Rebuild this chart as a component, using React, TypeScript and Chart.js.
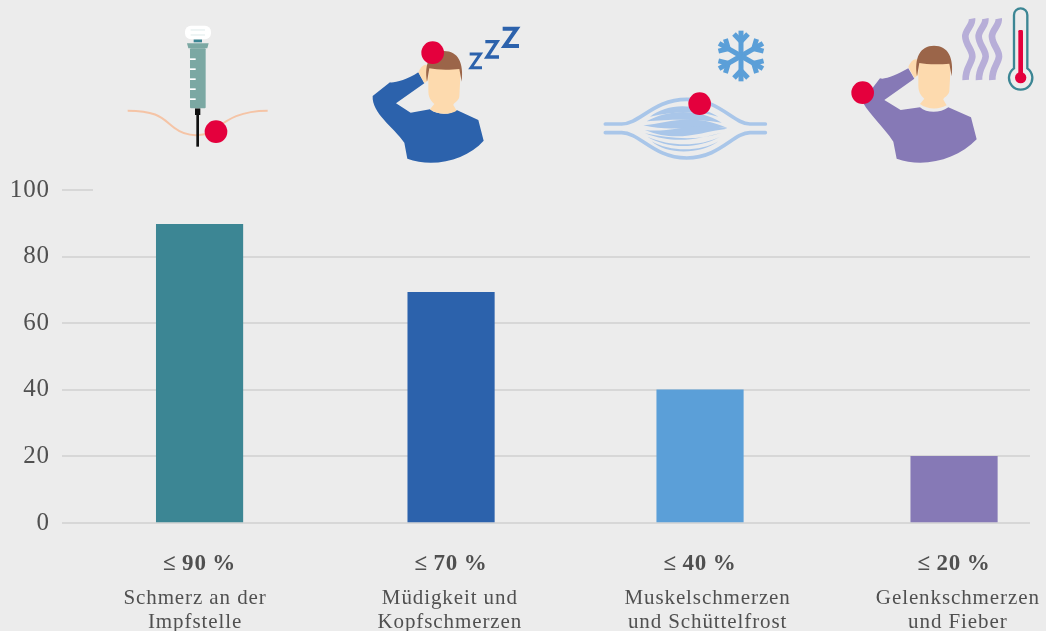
import React, { useEffect, useRef } from "react";
import { Chart, registerables } from "chart.js";

Chart.register(...registerables);

const categories: string[][] = [
  ["Schmerz an der", "Impfstelle"],
  ["Müdigkeit und", "Kopfschmerzen"],
  ["Muskelschmerzen", "und Schüttelfrost"],
  ["Gelenkschmerzen", "und Fieber"],
];
const shareLabels = ["≤\u200990\u2009%", "≤\u200970\u2009%", "≤\u200940\u2009%", "≤\u200920\u2009%"];
const values = [89.7, 69.3, 40, 20];
const barColors = ["#3c8694", "#2c62ac", "#5b9fd8", "#8679b6"];
const yTicks = [0, 20, 40, 60, 80, 100];

const TEXT = "#505050";
const GRID = "#d7d7d7";
const RED = "#e4003d";
const FONT = "'Liberation Serif'";

const barSlots = [0, 1, 1.99, 3];
const labelSlots = [-0.018, 0.995, 2.02, 3.015];

const Person = ({ color, dy, elbow }: { color: string; dy: number; elbow: string }) => (
  <g>
    <path d={elbow} fill={color} />
    <g transform={`translate(0,${dy})`}>
      <path d="M955,217 C960,205 970,190 982,195 L985,240 L973,250 Z" fill="#fddaae" />
      <path d="M985,195 L1083,195 L1078,290 C1075,305 1060,308 1060,315 L1070,332 C1050,345 1010,345 990,328 L1003,312 C990,300 985,290 985,270 Z" fill="#fddaae" />
      <path d="M981,245 C972,190 990,153 1032,153 C1075,153 1092,190 1085,245 L1078,207 C1050,210 1010,210 988,205 Z" fill="#9b6549" />
    </g>
  </g>
);

const Icons = () => (
  <svg width={1046} height={180} style={{ position: "absolute", left: 0, top: 0 }}>
    <g transform="translate(100,0) scale(0.33333)">
      <path d="M83,332 C180,332 190,360 225,385 C250,405 280,410 320,402 C360,385 390,332 503,332" stroke="#f5c4a6" strokeWidth={6} fill="none" />
      <rect x={289} y={345} width={8} height={95} fill="#111" />
      <rect x={285} y={325} width={16} height={20} fill="#111" />
      <rect x={270} y={145} width={47} height={180} rx={3} fill="#7ba8a3" />
      <path d="M261,130 H326 L322,145 H265 Z" fill="#7ba8a3" />
      {[175, 205, 235, 265, 295].map((y) => (
        <rect key={y} x={270} y={y} width={17} height={5} fill="#fff" />
      ))}
      <rect x={281} y={118} width={25} height={9} fill="#3c8694" />
      <rect x={255} y={77} width={78} height={41} rx={18} fill="#fff" />
      <path d="M272,90 H315 M272,105 H315" stroke="#cfe0e0" strokeWidth={2} />
      <circle cx={348} cy={395} r={34} fill={RED} />

      <Person
        color="#2c62ac"
        dy={0}
        elbow="M818,288 L870,247 C880,250 920,240 955,217 L973,250 L888,310 L932,338 L990,328 C1010,345 1050,345 1070,330 L1135,360 L1151,422 C1100,480 1000,505 922,476 L913,428 C880,380 815,340 818,288 Z"
      />
      <circle cx={998} cy={158} r={34} fill={RED} />
      <g stroke="#2c62ac" fill="none" strokeLinejoin="miter">
        <path d="M1109,162 H1141 L1113,203 H1146" strokeWidth={9} />
        <path d="M1156,125 H1191 L1161,171 H1197" strokeWidth={10} />
        <path d="M1208,86 H1250 L1214,138 H1257" strokeWidth={12} />
      </g>
    </g>
    <g transform="translate(590,0) scale(0.33333)">
      <g stroke="#5b9fd8" strokeWidth={15} fill="none">
        {[0, 60, 120, 180, 240, 300].map((a) => (
          <g key={a} transform={`translate(453,168) rotate(${a})`}>
            <path d="M0,0 V-76" />
            <path d="M-21,-66 L0,-44 L21,-66" />
          </g>
        ))}
      </g>
      <g stroke="#a9c6e9" strokeWidth={11} fill="none" strokeLinecap="round">
        <path d="M46,372 H95 C150,372 190,298 290,298 C390,298 430,372 480,372 H526" />
        <path d="M46,398 H95 C150,398 190,474 290,474 C390,474 430,398 480,398 H526" />
      </g>
      <g fill="#a9c6e9">
        <path d="M180,350 C230,312 310,305 385,350 C320,330 250,335 180,350 Z" />
        <path d="M170,364 C230,330 320,322 395,368 C320,356 240,358 170,364 Z" />
        <path d="M160,376 C230,372 300,335 412,384 C330,372 250,398 160,376 Z" />
        <path d="M165,390 C240,400 320,362 412,386 C330,396 260,430 165,390 Z" />
        <path d="M165,400 C240,415 320,425 395,398 C330,414 260,436 165,400 Z" />
        <path d="M172,410 C230,445 320,450 390,410 C330,440 240,440 172,410 Z" />
        <path d="M185,424 C230,465 330,465 385,424 C330,456 240,456 185,424 Z" />
      </g>
      <circle cx={329} cy={311} r={34} fill={RED} />
      <Person
        color="#8679b6"
        dy={-16}
        elbow="M820,300 L870,235 C885,240 920,225 955,205 L973,236 L883,300 L932,330 L990,322 C1010,340 1050,340 1075,322 L1143,352 L1160,418 C1100,480 1000,505 920,476 L910,425 C880,380 840,345 820,310 Z"
      />
      <circle cx={818} cy={278} r={34} fill={RED} />
      <g stroke="#b7aed8" strokeWidth={20} fill="none">
        {[0, 40, 80].map((dx) => (
          <path key={dx} transform={`translate(${dx},0)`} d="M1146,56 C1150,75 1125,90 1126,110 C1127,135 1148,150 1147,170 C1146,190 1125,205 1127,240" />
        ))}
      </g>
      <path d="M1272,205 V45 A20,20 0 0 1 1312,45 V205 A35,35 0 1 1 1272,205 Z" fill="none" stroke="#3c8694" strokeWidth={7} />
      <rect x={1285} y={90} width={14} height={135} rx={4} fill={RED} />
      <circle cx={1292} cy={233} r={17} fill={RED} />
    </g>
  </svg>
);

const shortTopLine = {
  id: "shortTopLine",
  beforeDraw(chart: any) {
    chart.ctx.letterSpacing = "0.9px";
  },
  beforeDatasetsDraw(chart: any) {
    const { ctx, scales } = chart;
    const y = scales.y.getPixelForValue(100);
    ctx.save();
    ctx.strokeStyle = GRID;
    ctx.lineWidth = 2;
    ctx.beginPath();
    ctx.moveTo(chart.chartArea.left, y);
    ctx.lineTo(chart.chartArea.left + 31, y);
    ctx.stroke();
    ctx.restore();
  },
};

export default function App() {
  const ref = useRef<HTMLCanvasElement>(null);
  useEffect(() => {
    document.body.style.margin = "0";
    document.body.style.background = "#ececec";
    const xMin = -0.547;
    const xMax = 3.302;
    const chart = new Chart(ref.current!, {
      type: "bar",
      data: {
        datasets: [
          {
            data: values.map((v, i) => ({ x: barSlots[i], y: v })),
            backgroundColor: barColors,
            barThickness: 86.5,
            borderWidth: 0,
          } as any,
        ],
      },
      plugins: [shortTopLine],
      options: {
        animation: false,
        responsive: false,
        layout: { padding: { top: 190, right: 16, left: 0, bottom: 0 } },
        plugins: { legend: { display: false }, tooltip: { enabled: false } },
        scales: {
          y: {
            min: 0,
            max: 100,
            afterFit: (s: any) => { s.width = 62; },
            afterBuildTicks: (s: any) => { s.ticks = yTicks.map((value) => ({ value })); },
            border: { display: false },
            grid: {
              drawTicks: false,
              lineWidth: 2,
              color: (c: any) => (c.tick && c.tick.value === 100 ? "rgba(0,0,0,0)" : GRID),
            },
            ticks: {
              padding: 12,
              color: TEXT,
              font: { family: FONT, size: 25 },
            },
          },
          x: {
            type: "linear",
            offset: false,
            min: xMin,
            max: xMax,
            weight: 0,
            afterFit: (s: any) => { s.height = 58; },
            afterBuildTicks: (s: any) => { s.ticks = barSlots.map((value) => ({ value })); },
            border: { display: false },
            grid: { display: false, drawTicks: false },
            ticks: {
              autoSkip: false,
              maxRotation: 0,
              padding: 27,
              color: TEXT,
              font: { family: FONT, size: 23, weight: "bold" },
              callback: (_v: any, i: number) => shareLabels[i],
            },
          },
          xLabels: {
            type: "linear",
            offset: false,
            position: "bottom",
            min: xMin,
            max: xMax,
            weight: 1,
            afterFit: (s: any) => { s.height = 50; },
            afterBuildTicks: (s: any) => { s.ticks = labelSlots.map((value) => ({ value })); },
            border: { display: false },
            grid: { display: false, drawTicks: false },
            ticks: {
              autoSkip: false,
              maxRotation: 0,
              padding: 5,
              color: TEXT,
              font: { family: FONT, size: 21, lineHeight: 1.15 },
              callback: (_v: any, i: number) => categories[i],
            },
          },
        },
      } as any,
    });
    return () => chart.destroy();
  }, []);
  return (
    <div style={{ position: "absolute", left: 0, top: 0, width: 1046, height: 631, background: "#ececec", overflow: "hidden" }}>
      <canvas ref={ref} width={1046} height={631} style={{ display: "block" }} />
      <Icons />
    </div>
  );
}
